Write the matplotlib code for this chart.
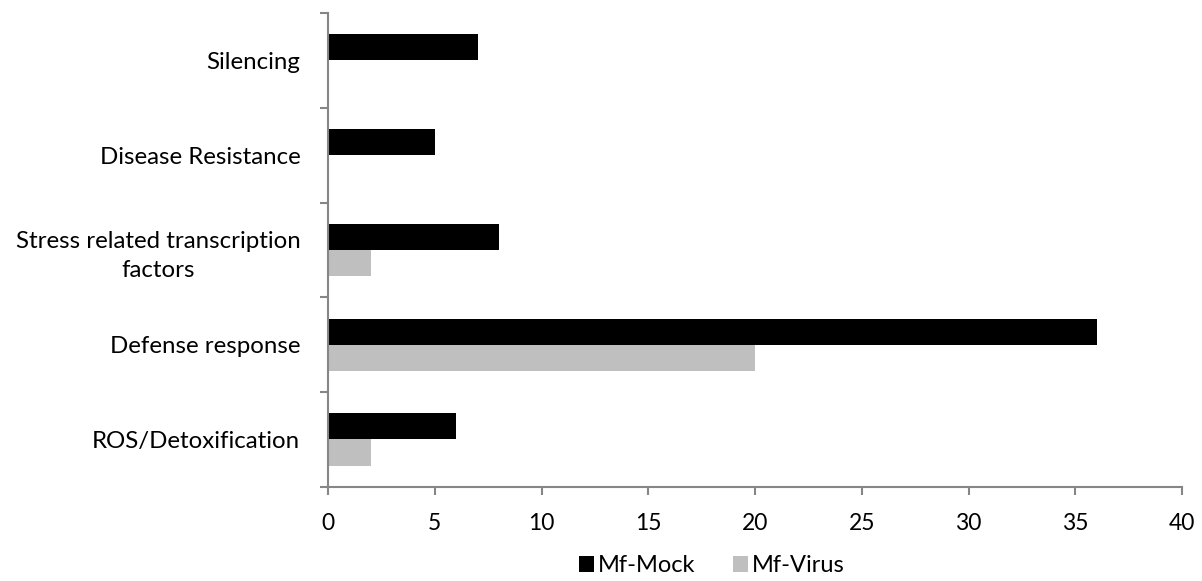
import numpy as np
import matplotlib.pyplot as plt

categories = ["ROS/Detoxification", "Defense response",
              "Stress related transcription\nfactors", "Disease Resistance", "Silencing"]
mock = [6, 36, 8, 5, 7]
virus = [2, 20, 2, 0, 0]
xticks = [0, 5, 10, 15, 20, 25, 30, 35, 40]

plt.rcParams['font.family'] = ['Lato', 'DejaVu Sans']

fig = plt.figure(figsize=(12.02, 5.81), dpi=100)
ax = fig.add_axes([0.273, 0.162, 0.7104, 0.8156])

y = np.arange(len(categories))
h = 0.275
ax.barh(y + h / 2, mock, height=h, color='black', label='Mf-Mock')
ax.barh(y - h / 2, virus, height=h, color='#bfbfbf', label='Mf-Virus')

ax.set_xlim(0, 40)
ax.set_ylim(-0.5, len(categories) - 0.5)
ax.set_xticks(xticks)
ax.set_yticks(y)
ax.set_yticklabels(categories, ha='right', multialignment='center', linespacing=1.45)
ax.set_yticks(np.arange(-0.5, len(categories), 1), minor=True)
ax.tick_params(axis='y', which='major', length=0, pad=20, labelsize=17.3)
ax.tick_params(axis='y', which='minor', length=6, color='#868686', width=1.5, direction='out')
ax.tick_params(axis='x', length=6, color='#868686', width=1.5, direction='out', pad=13, labelsize=16.5)

for s in ['top', 'right']:
    ax.spines[s].set_visible(False)
for s in ['left', 'bottom']:
    ax.spines[s].set_color('#868686')
    ax.spines[s].set_linewidth(1.5)

fig.legend(*ax.get_legend_handles_labels(), loc='center', bbox_to_anchor=(0.592, 0.026),
           ncol=2, frameon=False, fontsize=17, handlelength=0.65, handleheight=0.65,
           columnspacing=1.6, handletextpad=0.15, borderpad=0)

fig.savefig('out.png')
